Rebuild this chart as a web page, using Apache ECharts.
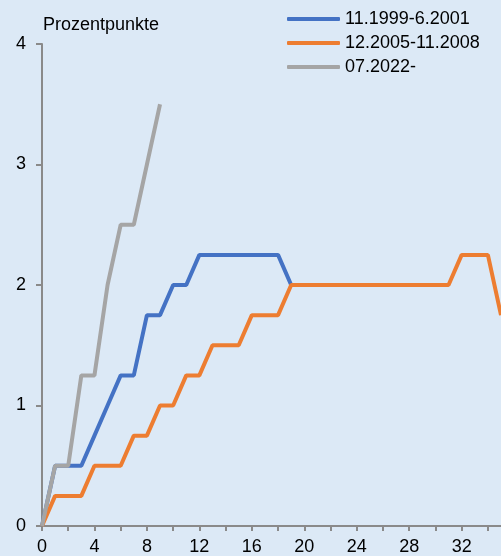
<!DOCTYPE html>
<html>
<head>
<meta charset="utf-8">
<script src="https://cdn.jsdelivr.net/npm/echarts@6/dist/echarts.min.js"></script>
<style>
html,body{margin:0;padding:0;background:#dce9f6;}
#c{width:501px;height:556px;}
</style>
</head>
<body>
<div id="c"></div>
<script>
const months = Array.from({length: 36}, (_, i) => String(i));
const seriesNames = ['11.1999-6.2001', '12.2005-11.2008', '07.2022-'];
const blue = [0, 0.5, 0.5, 0.5, 0.75, 1.0, 1.25, 1.25, 1.75, 1.75, 2.0, 2.0, 2.25, 2.25, 2.25, 2.25, 2.25, 2.25, 2.25, 2.0];
const orange = [0, 0.25, 0.25, 0.25, 0.5, 0.5, 0.5, 0.75, 0.75, 1.0, 1.0, 1.25, 1.25, 1.5, 1.5, 1.5, 1.75, 1.75, 1.75, 2.0, 2.0, 2.0, 2.0, 2.0, 2.0, 2.0, 2.0, 2.0, 2.0, 2.0, 2.0, 2.0, 2.25, 2.25, 2.25, 1.75];
const gray = [0, 0.5, 0.5, 1.25, 1.25, 2.0, 2.5, 2.5, 3.0, 3.5];
const colors = ['#4472C4', '#ED7D31', '#A5A5A5'];
const yUnit = 'Prozentpunkte';

const font = 'Liberation Sans, Arial, sans-serif';
const axisColor = '#8a8a8a';
const chart = echarts.init(document.getElementById('c'), null, {renderer: 'canvas'});
chart.setOption({
  backgroundColor: '#dce9f6',
  animation: false,
  textStyle: {fontFamily: font},
  title: {
    text: yUnit, left: 43, top: 16, padding: 0,
    textStyle: {fontFamily: font, fontSize: 18, fontWeight: 'normal', color: '#000'}
  },
  legend: {
    orient: 'vertical', left: 287, top: 10, padding: 0,
    icon: 'roundRect',
    itemWidth: 53, itemHeight: 4, itemGap: 6,
    textStyle: {fontFamily: font, fontSize: 18, color: '#000', padding: [0,0,0,0]},
    data: seriesNames
  },
  grid: {left: 42, right: 0, top: 44, bottom: 30, containLabel: false},
  xAxis: {
    type: 'category', data: months, boundaryGap: false,
    axisLine: {lineStyle: {color: axisColor, width: 2}},
    axisTick: {show: true, interval: 1, length: 5, lineStyle: {color: axisColor, width: 2}},
    axisLabel: {interval: 3, margin: 12, fontSize: 18, color: '#000', fontFamily: font},
    splitLine: {show: false}
  },
  yAxis: {
    type: 'value', min: 0, max: 4, interval: 1,
    axisLine: {show: true, lineStyle: {color: axisColor, width: 2}},
    axisTick: {show: true, length: 6, lineStyle: {color: axisColor, width: 2}},
    axisLabel: {margin: 16, fontSize: 18, color: '#000', fontFamily: font},
    splitLine: {show: false}
  },
  series: [
    {name: seriesNames[0], type: 'line', data: blue, symbol: 'none', color: colors[0], lineStyle: {width: 4, color: colors[0]}},
    {name: seriesNames[1], type: 'line', data: orange, symbol: 'none', color: colors[1], lineStyle: {width: 4, color: colors[1]}},
    {name: seriesNames[2], type: 'line', data: gray, symbol: 'none', color: colors[2], lineStyle: {width: 4, color: colors[2]}}
  ]
});
</script>
</body>
</html>
